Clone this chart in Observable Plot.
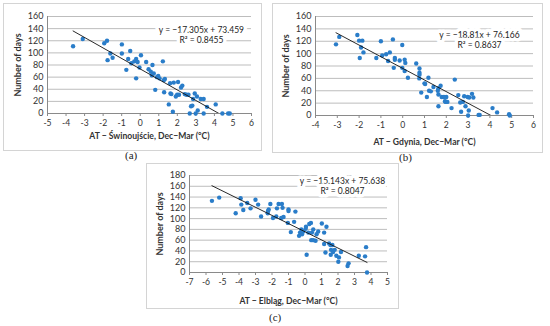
<!DOCTYPE html>
<html>
<head>
<meta charset="utf-8">
<script src="https://cdn.jsdelivr.net/npm/d3@7"></script>
<script src="https://cdn.jsdelivr.net/npm/@observablehq/plot@0.6"></script>
<style>
  html, body { margin: 0; padding: 0; background: #fff; }
  #wrap { position: relative; width: 550px; height: 326px; background: #fff; overflow: hidden; }
  .panel { position: absolute; border: 1px solid #d4d4d4; box-sizing: border-box; background: #fff; }
  .panel svg { position: absolute; left: 0; top: 0; }
  .cap { position: absolute; font-family: "Liberation Serif", serif; font-size: 11px; color: #222; }
  svg g[aria-label$="axis label"] text { font-weight: bold; }
</style>
</head>
<body>
<div id="wrap"></div>
<script>
// ---- Panel (a): Świnoujście ----
const aX = [-3.62,-3.10,-1.94,-1.79,-1.76,-1.61,-1.49,-0.99,-0.99,-0.75,-0.65,-0.54,-0.48,-0.32,-0.22,-0.22,-0.14,-0.04,0.04,0.32,0.45,0.57,0.66,0.63,0.73,0.81,0.90,0.97,1.04,1.22,1.27,1.33,1.29,1.54,1.61,1.63,1.68,1.76,1.81,1.92,1.99,2.04,2.09,2.20,2.27,2.40,2.49,2.60,2.67,2.74,2.81,2.85,2.94,2.99,3.06,3.10,3.26,3.42,3.42,3.60,4.07,4.43,4.74,4.83];
const aY = [111,123,116,120,88,99,92,114,99,72,90,103,83,86,90,58,85,76,96,85,73,69,80,63,66,39,60,62,58,86,55,57,35,15,50,33,32,3,51,28,31,52,31,43,46,32,31,31,0,12,13,24,33,0,28,5,24,24,0,11,15,0,0,0];
const aTicksX = [-5,-4,-3,-2,-1,0,1,2,3,4,5,6];
const aTicksY = [0,20,40,60,80,100,120,140,160];
const aTitle = "AT − Świnoujście, Dec−Mar (°C)";
const aEq = ["y = −17.305x + 73.459", "R² = 0.8455"];
const aCoef = [-17.305, 73.459];

// ---- Panel (b): Gdynia ----
const bX = [-3.06,-2.91,-2.08,-2.00,-1.85,-1.91,-1.97,-1.80,-1.21,-1.00,-0.94,-0.76,-0.67,-0.59,-0.45,-0.41,-0.36,-0.36,-0.14,-0.02,-0.02,0.09,0.12,0.09,0.24,0.62,0.77,0.77,0.77,0.76,0.85,1.00,1.03,1.11,1.18,1.21,1.29,1.41,1.61,1.64,1.64,1.64,1.74,1.79,1.89,1.94,2.00,1.97,2.05,2.24,2.39,2.55,2.64,2.68,2.76,2.82,2.88,2.98,3.00,3.03,3.05,3.18,3.24,3.48,3.53,4.12,4.33,4.88,4.91];
const bY = [115,127,130,121,121,110,93,102,93,120,97,99,88,102,123,77,93,90,89,114,77,90,85,72,61,84,76,69,66,60,37,52,51,30,61,40,39,46,40,44,34,15,48,30,30,23,30,22,22,12,58,33,21,6,22,31,15,30,0,8,29,35,29,1,1,12,5,2,0];
const bTicksX = [-4,-3,-2,-1,0,1,2,3,4,5,6];
const bTicksY = [0,20,40,60,80,100,120,140,160];
const bTitle = "AT − Gdynia, Dec−Mar (°C)";
const bEq = ["y = −18.81x + 76.166", "R² = 0.8637"];
const bCoef = [-18.81, 76.166];

// ---- Panel (c): Elbląg ----
const cX = [-5.64,-5.20,-4.20,-3.90,-3.86,-3.74,-3.50,-3.30,-3.00,-2.84,-2.66,-2.26,-2.24,-2.20,-2.10,-1.94,-1.74,-1.70,-1.60,-1.40,-1.36,-1.44,-1.30,-1.04,-1.00,-1.00,-0.86,-0.66,-0.58,-0.36,-0.30,-0.22,-0.18,-0.10,0.04,0.06,0.10,0.20,0.26,0.36,0.42,0.38,0.50,0.50,0.64,0.70,0.80,1.02,1.16,1.16,1.24,1.30,1.46,1.54,1.56,1.58,1.66,1.70,1.80,1.90,2.02,2.06,2.18,2.58,2.64,3.26,3.64,3.70,3.76];
const cY = [133,139,110,138,126,116,129,119,135,126,104,110,114,117,127,101,104,119,127,127,120,101,103,92,114,117,75,94,113,68,74,80,71,76,81,85,33,74,90,92,74,60,80,60,59,71,76,91,74,53,37,85,54,51,33,42,51,38,42,31,20,28,38,12,17,31,30,47,0];
const cTicksX = [-7,-6,-5,-4,-3,-2,-1,0,1,2,3,4,5];
const cTicksY = [0,20,40,60,80,100,120,140,160,180];
const cTitle = "AT − Elbląg, Dec−Mar (°C)";
const cEq = ["y = −15.143x + 75.638", "R² = 0.8047"];
const cCoef = [-15.143, 75.638];

const yLabel = "Number of days";

const panels = [
  {X: aX, Y: aY, tx: aTicksX, ty: aTicksY, title: aTitle, eq: aEq, coef: aCoef, cap: "(a)",
   box: {left: 3, top: 3, width: 259, height: 148}, m: {l: 43, r: 10, t: 12, b: 37}, lo: 25,
   eqPos: [3.3, 143.5], capPos: [125, 149]},
  {X: bX, Y: bY, tx: bTicksX, ty: bTicksY, title: bTitle, eq: bEq, coef: bCoef, cap: "(b)",
   box: {left: 272, top: 3, width: 271, height: 150}, m: {l: 42, r: 9, t: 12, b: 37}, lo: 29,
   eqPos: [3.52, 136], capPos: [399, 151]},
  {X: cX, Y: cY, tx: cTicksX, ty: cTicksY, title: cTitle, eq: cEq, coef: cCoef, cap: "(c)",
   box: {left: 146, top: 163, width: 253, height: 146}, m: {l: 42, r: 11, t: 11, b: 36}, lo: 31,
   eqPos: [2.27, 176.5], capPos: [269, 311]}
];

const wrap = document.getElementById("wrap");
for (const p of panels) {
  const pts = p.X.map((x, i) => ({x, y: p.Y[i]}));
  const xd = [p.tx[0], p.tx[p.tx.length - 1]];
  const yd = [p.ty[0], p.ty[p.ty.length - 1]];
  const xmin = d3.min(p.X), xmax = d3.max(p.X);
  const trend = [xmin, xmax].map(x => ({x, y: p.coef[0] * x + p.coef[1]}));
  const chart = Plot.plot({
    width: p.box.width - 2, height: p.box.height - 2,
    marginLeft: p.m.l, marginRight: p.m.r, marginTop: p.m.t, marginBottom: p.m.b,
    style: {fontFamily: "Lato, 'Open Sans', sans-serif", fontSize: "9px", color: "#333", background: "transparent"},
    x: {domain: xd},
    y: {domain: yd},
    marks: [
      Plot.gridY(p.ty, {stroke: "#bdbdbd", strokeOpacity: 1}),
      Plot.ruleX([xd[0]], {stroke: "#8a8a8a"}),
      Plot.ruleY([yd[0]], {stroke: "#8a8a8a"}),
      Plot.axisY({ticks: p.ty, tickSize: 0, tickPadding: 4, tickFormat: d => String(d),
        label: yLabel, labelAnchor: "center", labelOffset: 33, labelArrow: "none"}),
      Plot.axisX({ticks: p.tx, tickSize: 3, tickPadding: 3, stroke: "#8a8a8a", tickFormat: d => String(d),
        label: p.title, labelAnchor: "center", labelOffset: p.lo, labelArrow: "none", fontSize: 8.6}),
      Plot.dot(pts, {x: "x", y: "y", r: 2.2, fill: "#2a7dc9", stroke: "none"}),
      Plot.line(trend, {x: "x", y: "y", stroke: "#111", strokeWidth: 0.9, clip: true}),
      Plot.text([p.eq.join("\n")], {x: p.eqPos[0], y: p.eqPos[1], text: d => d, textAnchor: "middle",
        lineAnchor: "top", lineHeight: 1.15, fontSize: 8.5, fill: "#222", stroke: "white", strokeWidth: 7})
    ]
  });
  const div = document.createElement("div");
  div.className = "panel";
  Object.assign(div.style, {left: p.box.left + "px", top: p.box.top + "px", width: p.box.width + "px", height: p.box.height + "px"});
  div.appendChild(chart);
  wrap.appendChild(div);
  const cap = document.createElement("div");
  cap.className = "cap";
  cap.textContent = p.cap;
  Object.assign(cap.style, {left: p.capPos[0] + "px", top: p.capPos[1] + "px"});
  wrap.appendChild(cap);
}
</script>
</body>
</html>
